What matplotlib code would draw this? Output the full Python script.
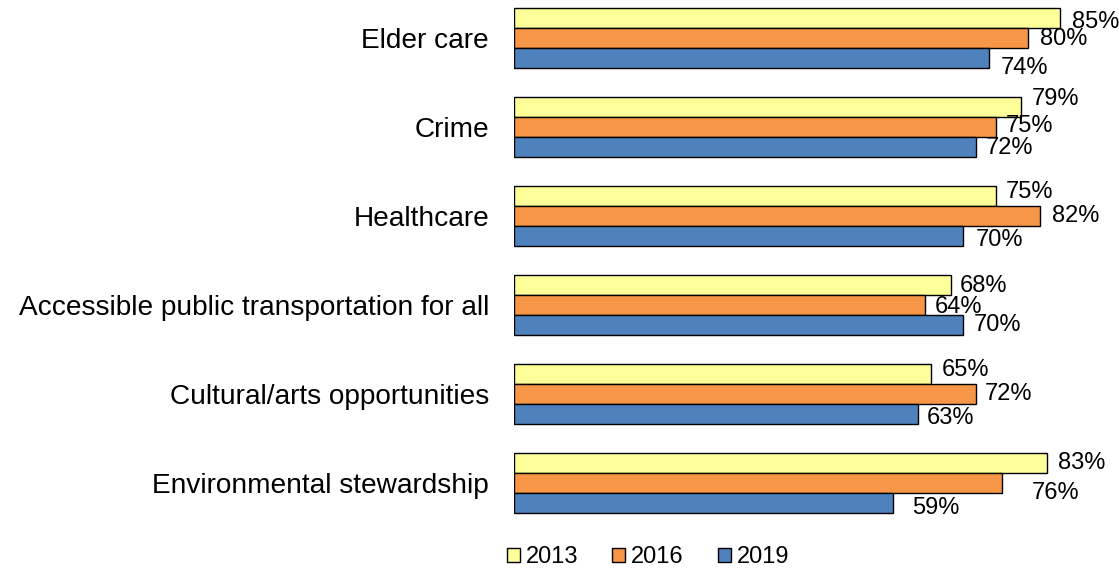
import matplotlib.pyplot as plt
import numpy as np

plt.rcParams["font.family"] = ["Liberation Sans", "DejaVu Sans"]

categories = [
    "Elder care",
    "Crime",
    "Healthcare",
    "Accessible public transportation for all",
    "Cultural/arts opportunities",
    "Environmental stewardship",
]
years = ["2013", "2016", "2019"]
v2013 = [85, 79, 75, 68, 65, 83]
v2016 = [80, 75, 82, 64, 72, 76]
v2019 = [74, 72, 70, 70, 63, 59]
colors = ["#FFFF99", "#F79646", "#4F81BD"]

# label nudges in pixels (dx, dy down), mimicking the original placement
label_dx = [[12, 12, 12], [11, 10, 10], [10, 12, 12],
            [9, 10, 10], [10, 9, 8], [11, 30, 19]]
label_dy = [[4, 1, 10], [-8, -1, 1], [-4, 0, 4],
            [1, 2, 0], [-4, 0, 4], [0, 10, 5]]

W, H = 1119, 569
fig = plt.figure(figsize=(W / 100, H / 100), dpi=100)
ax = fig.add_axes([514 / W, 1 - 527 / H, (W - 514) / W, 527 / H])

series = [v2013, v2016, v2019]
y = np.arange(len(categories))
bh = 0.2247
for j, (vals, col, lab) in enumerate(zip(series, colors, years)):
    pos = y + (j - 1) * bh
    ax.barh(pos, vals, height=bh, color=col, edgecolor="black",
            linewidth=1.0, label=lab)
    for i, v in enumerate(vals):
        ax.annotate(f"{v}%", (v, pos[i]), xytext=(label_dx[i][j], -label_dy[i][j]),
                    textcoords="offset pixels", ha="left", va="center",
                    fontsize=17)

ax.set_xlim(0, (W - 514) / 6.42)
ax.set_ylim(5.494, -0.427)
ax.set_yticks(y)
ax.set_yticklabels(categories, fontsize=20.2)
ax.tick_params(axis="y", length=0, pad=18)
ax.set_xticks([])
for s in ax.spines.values():
    s.set_visible(False)

fig.legend(loc="center", bbox_to_anchor=(648 / W, 1 - 557 / H), ncol=3,
           frameon=False, fontsize=17, handlelength=0.55, handleheight=0.55,
           handletextpad=0.25, columnspacing=1.45, borderpad=0)

fig.savefig("out.png", dpi=100)
